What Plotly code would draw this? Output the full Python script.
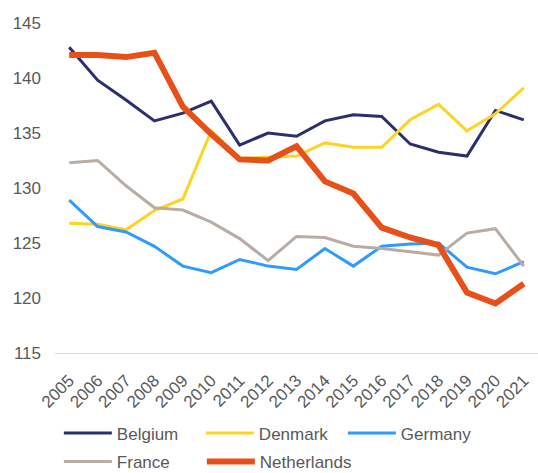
import plotly.graph_objects as go

years = [str(y) for y in range(2005, 2022)]
belgium = [142.8, 139.8, 138.0, 136.1, 136.8, 137.9, 133.9, 135.0, 134.7, 136.1,
           136.65, 136.5, 134.0, 133.25, 132.9, 137.05, 136.2]
denmark = [126.8, 126.7, 126.2, 127.95, 129.0, 135.2, 132.7, 132.8, 132.9, 134.1,
           133.7, 133.7, 136.2, 137.6, 135.2, 136.75, 139.1]
germany = [128.9, 126.5, 126.0, 124.7, 122.9, 122.3, 123.5, 122.9, 122.6, 124.5,
           122.9, 124.7, 124.9, 125.0, 122.8, 122.2, 123.3]
france = [132.3, 132.5, 130.2, 128.2, 128.0, 126.9, 125.4, 123.4, 125.6, 125.5,
          124.7, 124.5, 124.2, 123.9, 125.9, 126.3, 122.9]
netherlands = [142.1, 142.1, 141.9, 142.3, 137.4, 134.9, 132.6, 132.5, 133.8, 130.6,
               129.5, 126.4, 125.5, 124.8, 120.5, 119.5, 121.3]

series = [
    ("Belgium", belgium, "#2B2F6E", 3, "legend"),
    ("Denmark", denmark, "#FFD324", 3, "legend"),
    ("Germany", germany, "#2F9BFF", 3, "legend"),
    ("France", france, "#B8ACA5", 3, "legend2"),
    ("Netherlands", netherlands, "#E8501A", 6, "legend3"),
]

fig = go.Figure()
for name, vals, color, w, lg in series:
    fig.add_trace(go.Scatter(x=years, y=vals, name=name, mode="lines",
                             line=dict(color=color, width=w), legend=lg))

font = dict(family="Liberation Sans, Arial, sans-serif", size=17, color="#595959")
leg_common = dict(orientation="h", xanchor="left",
                  itemwidth=48, font=font, bgcolor="rgba(0,0,0,0)")
fig.update_layout(
    width=538, height=473,
    margin=dict(l=55, r=0, t=23, b=120, autoexpand=False),
    plot_bgcolor="white", paper_bgcolor="white",
    font=font,
    showlegend=True,
    legend=dict(x=0.008, y=-0.244, yanchor="middle", entrywidth=79,
                entrywidthmode="pixels", **leg_common),
    legend2=dict(x=0.008, y=-0.385, yanchor="bottom", **leg_common),
    legend3=dict(x=0.304, y=-0.385, yanchor="bottom", **leg_common),
    xaxis=dict(type="category", range=[-0.5, 16.5], tickangle=-45,
               showgrid=False, showline=True, linecolor="#D9D9D9", linewidth=1,
               ticks="", tickfont=font, zeroline=False, automargin=False,
               ticklabelstandoff=10),
    yaxis=dict(range=[115, 145], tickvals=[115, 120, 125, 130, 135, 140, 145],
               showgrid=False, showline=False, ticks="", tickfont=font,
               zeroline=False, automargin=False, ticklabelstandoff=13),
)

fig.write_html("out.html", config={"displayModeBar": False},
               post_script="document.body.style.margin='0px';")
